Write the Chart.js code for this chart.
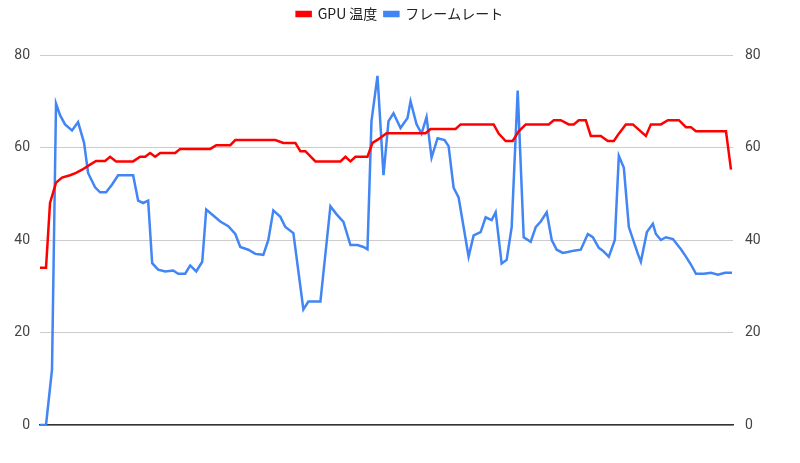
<!DOCTYPE html>
<html>
<head>
<meta charset="utf-8">
<script src="https://cdn.jsdelivr.net/npm/chart.js@4"></script>
<style>
  html, body { margin: 0; padding: 0; background: #fff; }
  #wrap { width: 800px; height: 463px; }
</style>
</head>
<body>
<div id="wrap"><canvas id="chart"></canvas></div>
<script>
// Tiempo (muestras) y valores
const tempTime = [0,6,10,16,22,30,36,42,50,56,65,70,76,85,93,100,105,110,115,120,135,140,170,176,190,195,235,243,255,260,265,275,300,305,310,315,327,332,338,346,385,390,415,420,453,458,465,472,478,485,508,513,520,528,533,538,545,550,560,567,573,578,585,592,605,610,620,627,638,645,650,655,685,690];
const tempValues = [34,34,48,52.4,53.5,54,54.5,55.2,56.3,57.1,57.1,58,57,57,57,58,58,58.8,58,58.8,58.8,59.7,59.7,60.5,60.5,61.6,61.6,61,61,59.2,59.2,57,57,58,57,58,58,61,61.8,63.1,63.1,64,64,65,65,63,61.4,61.4,63.5,65,65,65.9,65.9,65,65,65.9,65.9,62.5,62.5,61.4,61.4,63,65,65,62.5,65,65,65.9,65.9,64.4,64.4,63.5,63.5,55.2];

const fpsTime = [0,6,12,16,20,25,32,38,44,48,55,60,66,72,78,85,93,98,103,108,112,118,125,133,138,145,150,156,162,166,173,180,188,195,200,208,215,223,228,233,240,245,253,263,268,280,290,296,303,310,317,323,327,331,337,343,348,353,360,367,370,376,381,386,391,397,404,408,413,418,428,433,440,445,451,455,461,466,471,477,483,490,495,500,506,511,516,522,527,533,540,547,552,558,562,568,574,578,583,588,597,600,606,612,615,620,625,632,640,645,650,655,663,670,677,684,691];
const fpsValues = [0,0,12,69.5,67,65,63.7,65.5,61,54.5,51.4,50.3,50.3,52,54,54,54,48.5,48,48.5,35,33.6,33.2,33.4,32.7,32.7,34.5,33.2,35.3,46.6,45.3,44,43,41.3,38.5,37.9,37,36.8,40,46.4,45,42.8,41.5,25,26.7,26.7,47.3,45.6,43.9,38.9,38.9,38.5,38,65.7,75.5,54,65.7,67.4,64.2,66.4,70,65,63,66.6,57.8,62,61.6,60.3,51.3,49.2,36.4,41,41.7,44.9,44.3,46,34.9,35.7,42.8,72.3,40.6,39.6,42.8,44,46,40,37.9,37.2,37.4,37.7,37.9,41.3,40.6,38.3,37.7,36.4,40,58.2,55.6,42.8,37,35.3,41.7,43.5,41.3,40,40.6,40.2,38,36.4,34.7,32.7,32.7,32.9,32.5,32.9,32.9];

const yTicks = [0, 20, 40, 60, 80];

const toPoints = (t, v) => t.map((x, i) => ({ x: x, y: v[i] }));
const tickFont = { family: 'Roboto, Arial, sans-serif', size: 14 };

// Espacio extra debajo de la leyenda
const legendGap = {
  id: 'legendGap',
  beforeInit(chart) {
    const fit = chart.legend.fit;
    chart.legend.fit = function () {
      fit.call(this);
      this.height += 24;
    };
  }
};

new Chart(document.getElementById('chart'), {
  type: 'line',
  data: {
    datasets: [
      {
        label: 'GPU 温度',
        data: toPoints(tempTime, tempValues),
        borderColor: '#ff0000',
        backgroundColor: '#ff0000',
        borderWidth: 2.5,
        pointRadius: 0,
        tension: 0,
        yAxisID: 'y'
      },
      {
        label: 'フレームレート',
        data: toPoints(fpsTime, fpsValues),
        borderColor: '#4285f4',
        backgroundColor: '#4285f4',
        borderWidth: 2.5,
        pointRadius: 0,
        tension: 0,
        yAxisID: 'y1'
      }
    ]
  },
  plugins: [legendGap],
  options: {
    responsive: true,
    maintainAspectRatio: false,
    animation: false,
    layout: { padding: { top: 0, bottom: 38 } },
    plugins: {
      legend: {
        position: 'top',
        labels: {
          boxWidth: 14,
          boxHeight: 4,
          padding: 7,
          color: '#222',
          font: { family: '"Noto Sans CJK JP", Roboto, sans-serif', size: 14 }
        }
      },
      tooltip: { enabled: false }
    },
    scales: {
      x: {
        type: 'linear',
        min: 0,
        max: 692,
        grid: { display: false },
        border: { color: '#333', width: 1.5 },
        ticks: { display: false },
        afterFit: s => { s.height = 0; }
      },
      y: {
        position: 'left',
        min: 0,
        max: 80,
        afterBuildTicks: s => { s.ticks = yTicks.map(v => ({ value: v })); },
        grid: { color: '#cccccc', drawTicks: false },
        border: { display: false },
        ticks: { color: '#444', font: tickFont, padding: 10 },
        afterFit: s => { s.width = 40; }
      },
      y1: {
        position: 'right',
        min: 0,
        max: 80,
        afterBuildTicks: s => { s.ticks = yTicks.map(v => ({ value: v })); },
        grid: { display: false, drawTicks: false },
        border: { display: false },
        ticks: { color: '#444', font: tickFont, padding: 12 },
        afterFit: s => { s.width = 67; }
      }
    }
  }
});
</script>
</body>
</html>
